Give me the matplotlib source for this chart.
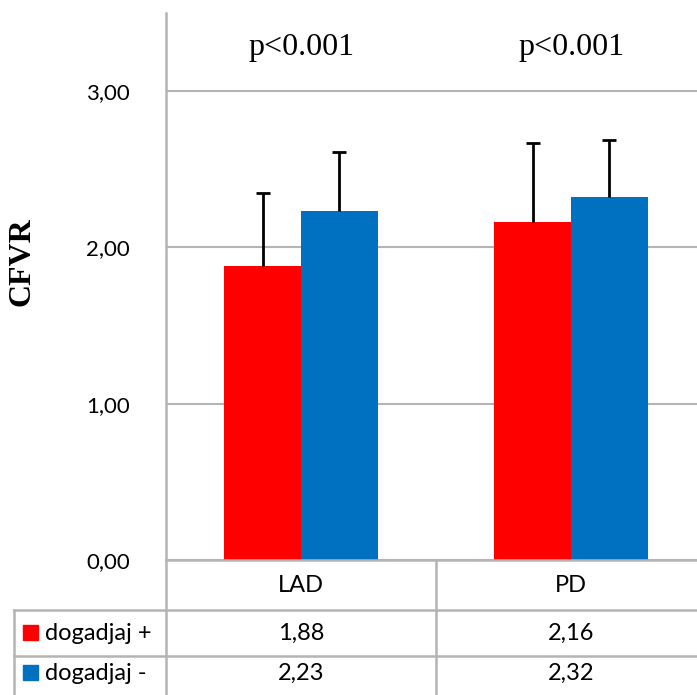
import matplotlib
matplotlib.use("Agg")
import matplotlib.pyplot as plt
from matplotlib.patches import Rectangle
import numpy as np

# data
categories = ["LAD", "PD"]
series_names = ["dogadjaj +", "dogadjaj -"]
event_pos = [1.88, 2.16]
event_neg = [2.23, 2.32]
err_pos = [0.47, 0.51]
err_neg = [0.38, 0.37]
p_values = ["p<0.001", "p<0.001"]
y_ticks = [0.0, 1.0, 2.0, 3.0]

RED = "#FF0000"
BLUE = "#0070C0"
GRID = "#B4B4B4"
SANS = ["Lato", "DejaVu Sans"]
SERIF = ["Liberation Serif", "DejaVu Serif"]

W, H = 697, 695
fig = plt.figure(figsize=(W / 100, H / 100), dpi=100)

# axes box in pixels (left, top, right, bottom)
L, T, R, B = 166, 13, 706, 560
ax = fig.add_axes([L / W, 1 - B / H, (R - L) / W, (B - T) / H])

x = np.arange(len(categories))
bw = 0.285
ax.bar(x - bw / 2, event_pos, bw, color=RED, zorder=3)
ax.bar(x + bw / 2, event_neg, bw, color=BLUE, zorder=3)
for xs, vals, errs in [(x - bw / 2, event_pos, err_pos), (x + bw / 2, event_neg, err_neg)]:
    eb = ax.errorbar(xs, vals, yerr=[[0] * len(x), errs], fmt="none",
                     ecolor="black", elinewidth=2, capsize=4.8, capthick=2, zorder=4)
    eb[1][0].set_visible(False)  # only the upper cap

for xi, p in zip(x, p_values):
    ax.text(xi, 3.28, p, ha="center", va="center", fontsize=23, family=SERIF)

ax.set_xlim(-0.5, 1.5)
ax.set_ylim(0, 3.5)
ax.set_yticks(y_ticks)
ax.set_yticklabels([f"{v:.2f}".replace(".", ",") for v in y_ticks],
                   fontsize=16, family=SANS)
ax.tick_params(axis="y", length=0, pad=26)
ax.set_xticks([])
ax.grid(axis="y", color=GRID, linewidth=1.5, zorder=0)
for s in ["top", "right", "bottom"]:
    ax.spines[s].set_visible(False)
ax.spines["left"].set_color(GRID)
ax.spines["left"].set_linewidth(1.8)

# data table under the plot (figure-pixel helpers)
def fx(px):
    return px / W

def fy(py):
    return 1 - py / H

fig.text(fx(22), fy(262), "CFVR", rotation=90, ha="center", va="center",
         fontsize=23, fontweight="bold", family=SERIF)

lw = 1.8
col_edges = [L + 270 * i for i in range(len(categories) + 1)]
rows = [560, 610, 656]

def hline(y, x0, x1):
    fig.add_artist(plt.Line2D([fx(x0), fx(x1)], [fy(y), fy(y)], color=GRID, lw=lw))

def vline(xp, y0, y1):
    fig.add_artist(plt.Line2D([fx(xp), fx(xp)], [fy(y0), fy(y1)], color=GRID, lw=lw))

hline(rows[0], L, W + 5)
hline(rows[1], 14, W + 5)
hline(rows[2], 14, W + 5)
vline(L, rows[0], H + 5)
vline(14, rows[1], H + 5)
for xe in col_edges[1:-1]:
    vline(xe, rows[0], H + 5)

text_rows = [586, 633, 673]
tsize = 17
for ci, cat in enumerate(categories):
    cx = (col_edges[ci] + col_edges[ci + 1]) / 2
    fig.text(fx(cx), fy(text_rows[0]), cat, ha="center", va="center",
             fontsize=tsize, family=SANS)
    fig.text(fx(cx), fy(text_rows[1]), f"{event_pos[ci]:.2f}".replace(".", ","),
             ha="center", va="center", fontsize=tsize, family=SANS)
    fig.text(fx(cx), fy(text_rows[2]), f"{event_neg[ci]:.2f}".replace(".", ","),
             ha="center", va="center", fontsize=tsize, family=SANS)

for name, color, ty in zip(series_names, [RED, BLUE], text_rows[1:]):
    fig.add_artist(Rectangle((fx(23), fy(ty + 7)), 15 / W, 15 / H,
                             transform=fig.transFigure, color=color))
    fig.text(fx(45), fy(ty), name, ha="left", va="center", fontsize=tsize, family=SANS)

fig.savefig("out.png", dpi=100)
